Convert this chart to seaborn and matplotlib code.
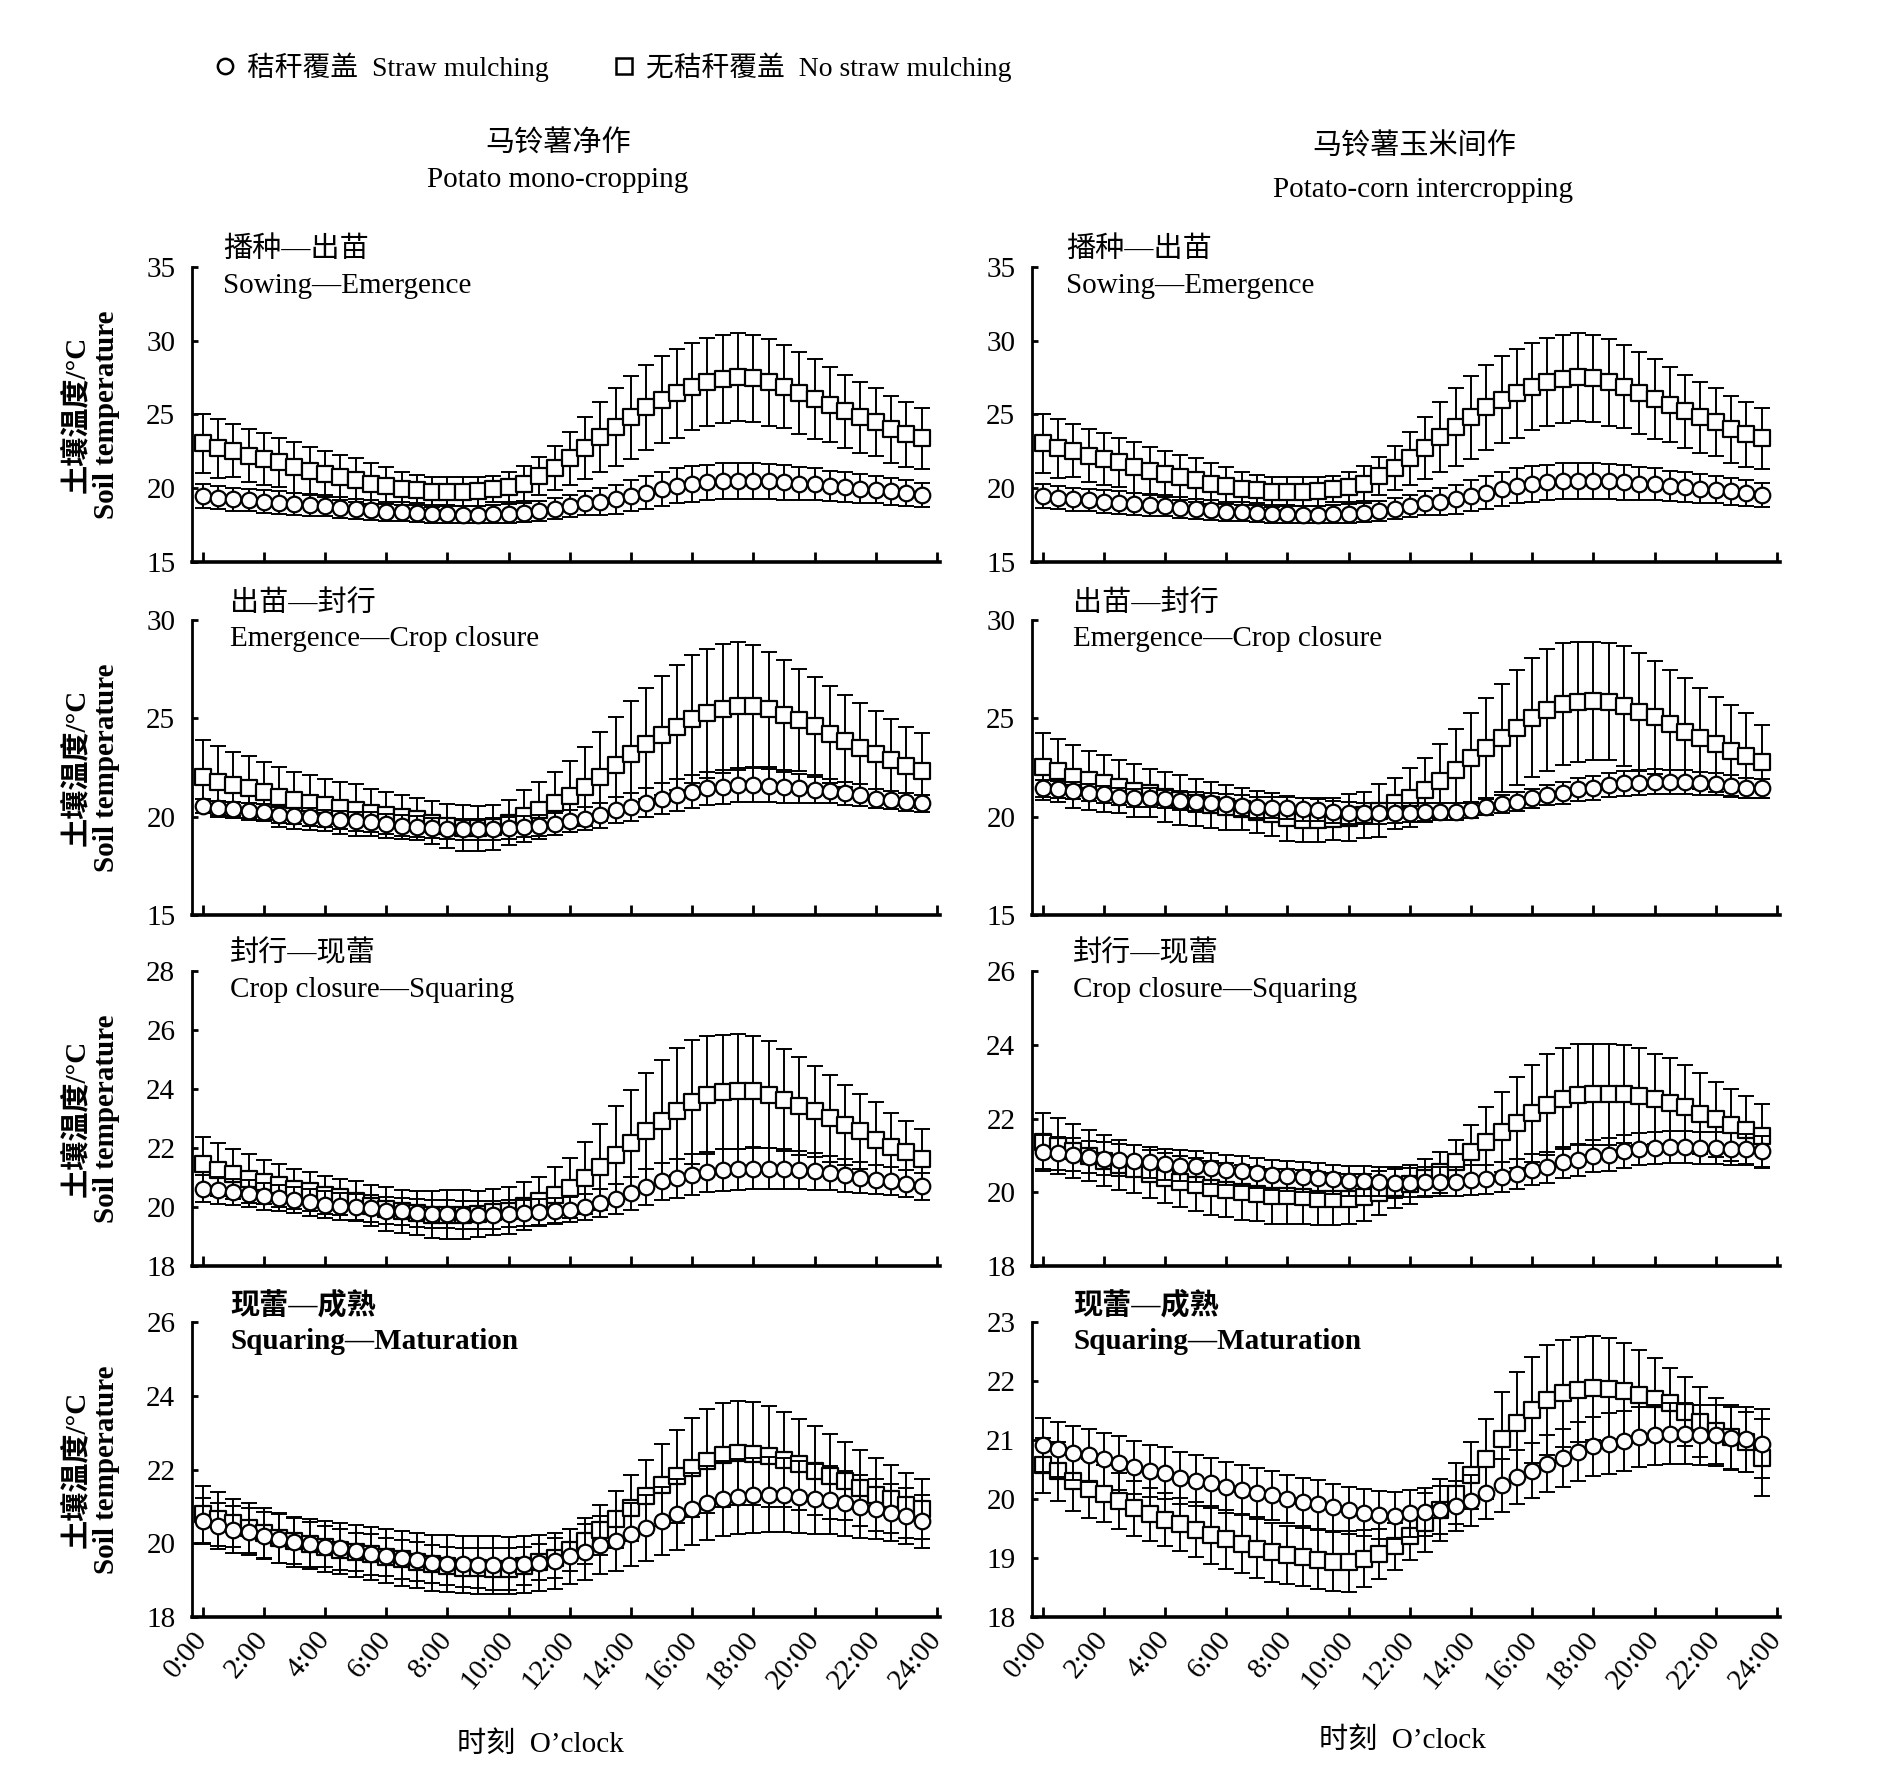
import numpy as np
import pandas as pd
import seaborn as sns
import matplotlib.pyplot as plt
from matplotlib.lines import Line2D

# orari di misura: 0:00 - 23:30 ogni mezz'ora
hours = np.arange(0, 24, 0.5)

# ---------------- 马铃薯净作 Potato mono-cropping ----------------
# 播种—出苗
mono_sow_straw = [19.49, 19.37, 19.26, 19.21, 19.10, 19.03, 18.92, 18.85, 18.81, 18.69,
                  18.58, 18.51, 18.42, 18.40, 18.35, 18.24, 18.24, 18.22, 18.22, 18.24,
                  18.28, 18.35, 18.47, 18.62, 18.81, 18.99, 19.10, 19.26, 19.49, 19.71,
                  19.98, 20.16, 20.28, 20.39, 20.46, 20.50, 20.50, 20.46, 20.39, 20.32,
                  20.28, 20.16, 20.10, 19.98, 19.89, 19.78, 19.67, 19.55]
mono_sow_straw_err = [0.80, 0.79, 0.78, 0.77, 0.76, 0.75, 0.74, 0.72, 0.71, 0.70,
                      0.68, 0.67, 0.66, 0.64, 0.63, 0.62, 0.61, 0.60, 0.60, 0.61,
                      0.62, 0.64, 0.66, 0.70, 0.75, 0.82, 0.90, 0.98, 1.05, 1.11,
                      1.15, 1.18, 1.20, 1.21, 1.22, 1.22, 1.21, 1.19, 1.16, 1.12,
                      1.08, 1.04, 1.00, 0.96, 0.92, 0.89, 0.86, 0.83]
mono_sow_bare = [23.04, 22.72, 22.54, 22.20, 21.98, 21.75, 21.41, 21.18, 20.96, 20.73,
                 20.55, 20.32, 20.16, 19.98, 19.87, 19.76, 19.76, 19.76, 19.80, 19.94,
                 20.10, 20.32, 20.84, 21.36, 22.02, 22.72, 23.45, 24.13, 24.81, 25.49,
                 26.00, 26.44, 26.89, 27.19, 27.41, 27.53, 27.46, 27.19, 26.89, 26.46,
                 26.05, 25.67, 25.21, 24.81, 24.47, 24.01, 23.67, 23.38]
mono_sow_bare_err = [2.00, 2.00, 1.80, 1.79, 1.76, 1.65, 1.70, 1.59, 1.58, 1.52,
                     1.47, 1.36, 1.25, 1.14, 1.02, 1.02, 0.97, 0.97, 0.98, 0.90,
                     1.00, 1.16, 1.30, 1.50, 1.77, 2.10, 2.38, 2.65, 2.83, 2.87,
                     2.95, 3.00, 2.95, 2.99, 2.99, 3.00, 2.94, 2.94, 2.79, 2.76,
                     2.68, 2.53, 2.47, 2.42, 2.31, 2.27, 2.21, 2.06]

# 出苗—封行
mono_emg_straw = [20.53, 20.46, 20.38, 20.29, 20.24, 20.10, 20.03, 19.98, 19.90, 19.81,
                  19.76, 19.73, 19.64, 19.55, 19.50, 19.42, 19.38, 19.35, 19.35, 19.38,
                  19.42, 19.50, 19.55, 19.64, 19.78, 19.90, 20.07, 20.33, 20.50, 20.70,
                  20.92, 21.10, 21.27, 21.44, 21.52, 21.61, 21.61, 21.58, 21.49, 21.44,
                  21.35, 21.30, 21.18, 21.10, 20.92, 20.84, 20.75, 20.67]
mono_emg_straw_err = [0.35, 0.36, 0.37, 0.38, 0.40, 0.41, 0.42, 0.44, 0.45, 0.46,
                      0.48, 0.49, 0.50, 0.51, 0.52, 0.53, 0.54, 0.55, 0.55, 0.55,
                      0.55, 0.55, 0.55, 0.56, 0.58, 0.60, 0.63, 0.66, 0.70, 0.74,
                      0.78, 0.81, 0.83, 0.85, 0.86, 0.86, 0.85, 0.82, 0.78, 0.73,
                      0.68, 0.63, 0.58, 0.54, 0.50, 0.47, 0.45, 0.44]
mono_emg_bare = [22.04, 21.78, 21.61, 21.44, 21.27, 21.01, 20.84, 20.72, 20.58, 20.45,
                 20.33, 20.21, 20.10, 19.98, 19.88, 19.70, 19.52, 19.42, 19.40, 19.46,
                 19.70, 20.02, 20.33, 20.67, 21.04, 21.52, 22.04, 22.64, 23.20, 23.70,
                 24.13, 24.55, 24.95, 25.26, 25.50, 25.63, 25.63, 25.46, 25.17, 24.91,
                 24.61, 24.18, 23.84, 23.49, 23.20, 22.89, 22.60, 22.33]
mono_emg_bare_err = [1.85, 1.80, 1.66, 1.63, 1.50, 1.54, 1.45, 1.40, 1.32, 1.33,
                     1.31, 1.19, 1.17, 1.12, 1.05, 1.10, 1.12, 1.15, 1.15, 1.15,
                     1.15, 1.32, 1.45, 1.62, 1.80, 2.01, 2.26, 2.43, 2.70, 2.82,
                     3.04, 3.17, 3.25, 3.28, 3.30, 3.26, 3.12, 2.91, 2.78, 2.61,
                     2.48, 2.48, 2.34, 2.28, 2.18, 2.06, 1.95, 1.90]

# 封行—现蕾
mono_clo_straw = [20.62, 20.56, 20.51, 20.45, 20.36, 20.31, 20.24, 20.16, 20.08, 20.02,
                  19.99, 19.96, 19.88, 19.85, 19.79, 19.77, 19.77, 19.74, 19.74, 19.74,
                  19.77, 19.80, 19.82, 19.86, 19.91, 19.99, 20.13, 20.28, 20.47, 20.68,
                  20.87, 20.98, 21.10, 21.19, 21.25, 21.28, 21.30, 21.30, 21.28, 21.25,
                  21.21, 21.15, 21.08, 21.00, 20.93, 20.88, 20.79, 20.70]
mono_clo_straw_err = [0.46, 0.46, 0.45, 0.45, 0.45, 0.45, 0.45, 0.45, 0.45, 0.45,
                      0.46, 0.46, 0.47, 0.47, 0.48, 0.48, 0.48, 0.48, 0.48, 0.47,
                      0.46, 0.45, 0.44, 0.43, 0.43, 0.44, 0.47, 0.51, 0.56, 0.60,
                      0.63, 0.66, 0.68, 0.69, 0.70, 0.70, 0.70, 0.69, 0.67, 0.65,
                      0.62, 0.59, 0.56, 0.53, 0.50, 0.48, 0.46, 0.45]
mono_clo_bare = [21.47, 21.27, 21.11, 20.96, 20.85, 20.73, 20.62, 20.53, 20.41, 20.33,
                 20.22, 20.05, 19.94, 19.85, 19.79, 19.74, 19.74, 19.74, 19.77, 19.82,
                 19.88, 20.03, 20.19, 20.41, 20.65, 20.98, 21.36, 21.76, 22.18, 22.58,
                 22.92, 23.24, 23.55, 23.79, 23.90, 23.92, 23.92, 23.81, 23.62, 23.43,
                 23.24, 23.01, 22.78, 22.56, 22.27, 22.04, 21.85, 21.64]
mono_clo_bare_err = [0.91, 0.91, 0.84, 0.82, 0.76, 0.72, 0.68, 0.66, 0.64, 0.61,
                     0.65, 0.70, 0.74, 0.74, 0.74, 0.80, 0.82, 0.83, 0.77, 0.78,
                     0.80, 0.82, 0.83, 0.95, 1.02, 1.23, 1.45, 1.65, 1.80, 1.97,
                     2.08, 2.14, 2.10, 2.01, 1.94, 1.96, 1.88, 1.82, 1.73, 1.66,
                     1.54, 1.48, 1.35, 1.27, 1.29, 1.16, 1.08, 1.01]

# 现蕾—成熟
mono_sq_straw = [20.60, 20.47, 20.37, 20.31, 20.21, 20.12, 20.03, 19.97, 19.91, 19.86,
                 19.79, 19.72, 19.65, 19.59, 19.54, 19.47, 19.45, 19.43, 19.41, 19.41,
                 19.40, 19.43, 19.47, 19.52, 19.65, 19.77, 19.95, 20.06, 20.24, 20.42,
                 20.60, 20.78, 20.92, 21.10, 21.21, 21.26, 21.30, 21.32, 21.30, 21.26,
                 21.21, 21.17, 21.08, 20.99, 20.92, 20.83, 20.74, 20.60]
mono_sq_straw_err = [0.62, 0.62, 0.63, 0.64, 0.65, 0.66, 0.67, 0.68, 0.69, 0.70,
                     0.71, 0.72, 0.73, 0.74, 0.75, 0.76, 0.77, 0.78, 0.78, 0.78,
                     0.78, 0.77, 0.76, 0.75, 0.75, 0.76, 0.78, 0.81, 0.85, 0.89,
                     0.93, 0.96, 0.98, 1.00, 1.01, 1.02, 1.02, 1.01, 1.00, 0.98,
                     0.95, 0.92, 0.88, 0.85, 0.81, 0.78, 0.75, 0.72]
mono_sq_bare = [20.78, 20.66, 20.56, 20.42, 20.28, 20.15, 20.06, 19.97, 19.91, 19.83,
                19.76, 19.70, 19.63, 19.56, 19.50, 19.44, 19.38, 19.34, 19.32, 19.29,
                19.31, 19.38, 19.50, 19.61, 19.83, 20.06, 20.35, 20.65, 20.96, 21.28,
                21.59, 21.82, 22.05, 22.23, 22.38, 22.45, 22.43, 22.36, 22.27, 22.14,
                21.97, 21.82, 21.68, 21.50, 21.32, 21.19, 21.03, 20.92]
mono_sq_bare_err = [0.77, 0.74, 0.65, 0.68, 0.68, 0.68, 0.63, 0.61, 0.56, 0.55,
                    0.51, 0.55, 0.51, 0.54, 0.53, 0.51, 0.52, 0.52, 0.54, 0.57,
                    0.57, 0.52, 0.49, 0.54, 0.57, 0.63, 0.68, 0.78, 0.90, 0.99,
                    1.11, 1.26, 1.35, 1.42, 1.41, 1.40, 1.40, 1.37, 1.29, 1.24,
                    1.20, 1.15, 1.06, 1.04, 0.98, 0.92, 0.88, 0.81]

# ---------------- 马铃薯玉米间作 Potato-corn intercropping ----------------
# 播种—出苗 (nel grafico originale coincide con il pannello della monocoltura)
inter_sow_straw = mono_sow_straw
inter_sow_straw_err = mono_sow_straw_err
inter_sow_bare = mono_sow_bare
inter_sow_bare_err = mono_sow_bare_err

# 出苗—封行
inter_emg_straw = [21.44, 21.39, 21.32, 21.22, 21.14, 21.02, 20.97, 20.97, 20.90, 20.81,
                   20.76, 20.71, 20.63, 20.56, 20.47, 20.46, 20.42, 20.37, 20.34, 20.25,
                   20.17, 20.17, 20.17, 20.20, 20.20, 20.25, 20.25, 20.25, 20.34, 20.51,
                   20.63, 20.76, 20.93, 21.10, 21.22, 21.39, 21.47, 21.61, 21.69, 21.73,
                   21.78, 21.78, 21.75, 21.69, 21.64, 21.56, 21.47, 21.44]
inter_emg_straw_err = [0.42, 0.42, 0.43, 0.43, 0.44, 0.45, 0.46, 0.47, 0.48, 0.49,
                       0.50, 0.51, 0.52, 0.53, 0.54, 0.55, 0.56, 0.57, 0.57, 0.57,
                       0.56, 0.55, 0.53, 0.50, 0.47, 0.45, 0.43, 0.42, 0.42, 0.43,
                       0.45, 0.47, 0.50, 0.53, 0.56, 0.58, 0.60, 0.61, 0.62, 0.62,
                       0.62, 0.61, 0.60, 0.58, 0.56, 0.54, 0.52, 0.50]
inter_emg_bare = [22.54, 22.34, 22.03, 21.86, 21.69, 21.53, 21.32, 21.19, 21.02, 20.85,
                  20.71, 20.59, 20.47, 20.39, 20.25, 20.12, 19.92, 19.83, 19.83, 19.88,
                  19.95, 20.08, 20.31, 20.68, 20.97, 21.36, 21.81, 22.37, 22.97, 23.47,
                  23.98, 24.53, 25.03, 25.42, 25.71, 25.85, 25.88, 25.85, 25.64, 25.34,
                  25.05, 24.69, 24.32, 23.98, 23.68, 23.36, 23.10, 22.80]
inter_emg_bare_err = [1.70, 1.61, 1.61, 1.50, 1.45, 1.35, 1.36, 1.23, 1.27, 1.27,
                      1.19, 1.19, 1.14, 1.05, 1.06, 1.10, 1.15, 1.14, 1.14, 1.09,
                      1.19, 1.19, 1.33, 1.30, 1.49, 1.61, 1.87, 2.07, 2.28, 2.58,
                      2.75, 2.93, 3.02, 3.09, 3.10, 3.05, 3.02, 2.96, 3.04, 3.00,
                      2.88, 2.77, 2.71, 2.58, 2.42, 2.32, 2.15, 1.85]

# 封行—现蕾
inter_clo_straw = [21.09, 21.06, 21.02, 20.95, 20.91, 20.88, 20.84, 20.81, 20.76, 20.72,
                   20.70, 20.65, 20.61, 20.58, 20.52, 20.47, 20.44, 20.42, 20.38, 20.35,
                   20.31, 20.31, 20.29, 20.24, 20.26, 20.29, 20.29, 20.29, 20.33, 20.35,
                   20.42, 20.49, 20.61, 20.68, 20.81, 20.88, 20.99, 21.02, 21.11, 21.17,
                   21.20, 21.22, 21.22, 21.20, 21.20, 21.18, 21.16, 21.11]
inter_clo_straw_err = [0.45, 0.45, 0.44, 0.44, 0.44, 0.43, 0.43, 0.43, 0.42, 0.42,
                       0.42, 0.42, 0.41, 0.41, 0.41, 0.41, 0.40, 0.40, 0.40, 0.40,
                       0.40, 0.40, 0.40, 0.40, 0.40, 0.40, 0.40, 0.40, 0.40, 0.40,
                       0.41, 0.41, 0.42, 0.42, 0.43, 0.43, 0.44, 0.44, 0.44, 0.44,
                       0.44, 0.44, 0.44, 0.44, 0.44, 0.43, 0.43, 0.42]
inter_clo_bare = [21.37, 21.25, 21.11, 20.99, 20.86, 20.74, 20.63, 20.50, 20.38, 20.29,
                  20.20, 20.11, 20.06, 20.00, 19.95, 19.89, 19.89, 19.86, 19.83, 19.81,
                  19.81, 19.86, 19.97, 20.12, 20.22, 20.38, 20.54, 20.81, 21.08, 21.37,
                  21.63, 21.89, 22.14, 22.37, 22.54, 22.64, 22.66, 22.66, 22.66, 22.60,
                  22.53, 22.41, 22.30, 22.13, 21.98, 21.82, 21.68, 21.52]
inter_clo_bare_err = [0.79, 0.76, 0.73, 0.69, 0.68, 0.67, 0.66, 0.65, 0.68, 0.70,
                      0.72, 0.73, 0.74, 0.74, 0.74, 0.74, 0.74, 0.73, 0.72, 0.70,
                      0.68, 0.64, 0.60, 0.56, 0.53, 0.52, 0.55, 0.62, 0.74, 0.95,
                      1.08, 1.23, 1.32, 1.37, 1.38, 1.37, 1.37, 1.37, 1.33, 1.32,
                      1.23, 1.23, 1.14, 1.10, 1.02, 0.98, 0.92, 0.87]

# 现蕾—成熟
inter_sq_straw = [20.91, 20.84, 20.78, 20.74, 20.67, 20.61, 20.54, 20.48, 20.44, 20.36,
                  20.31, 20.27, 20.20, 20.15, 20.11, 20.06, 20.00, 19.95, 19.91, 19.86,
                  19.81, 19.77, 19.73, 19.72, 19.76, 19.78, 19.81, 19.88, 19.97, 20.10,
                  20.23, 20.37, 20.48, 20.60, 20.69, 20.80, 20.89, 20.94, 20.99, 21.05,
                  21.09, 21.11, 21.11, 21.09, 21.08, 21.03, 21.01, 20.94]
inter_sq_straw_err = [0.46, 0.46, 0.46, 0.45, 0.45, 0.45, 0.45, 0.44, 0.44, 0.44,
                      0.43, 0.43, 0.43, 0.42, 0.42, 0.42, 0.41, 0.41, 0.41, 0.40,
                      0.40, 0.40, 0.40, 0.40, 0.40, 0.40, 0.41, 0.42, 0.43, 0.44,
                      0.45, 0.46, 0.47, 0.48, 0.49, 0.50, 0.50, 0.51, 0.51, 0.51,
                      0.51, 0.51, 0.51, 0.51, 0.52, 0.53, 0.55, 0.58]
inter_sq_bare = [20.57, 20.47, 20.30, 20.17, 20.09, 19.97, 19.84, 19.74, 19.65, 19.57,
                 19.48, 19.39, 19.32, 19.24, 19.16, 19.10, 19.05, 19.02, 18.97, 18.94,
                 18.94, 18.99, 19.07, 19.20, 19.38, 19.60, 19.81, 20.09, 20.40, 20.68,
                 21.01, 21.28, 21.51, 21.68, 21.79, 21.85, 21.88, 21.86, 21.83, 21.76,
                 21.70, 21.62, 21.48, 21.31, 21.16, 21.05, 20.97, 20.70]
inter_sq_bare_err = [0.46, 0.50, 0.50, 0.50, 0.48, 0.47, 0.46, 0.45, 0.45, 0.45,
                     0.47, 0.49, 0.50, 0.50, 0.50, 0.50, 0.49, 0.49, 0.50, 0.50,
                     0.51, 0.48, 0.43, 0.40, 0.42, 0.50, 0.53, 0.52, 0.57, 0.68,
                     0.81, 0.88, 0.90, 0.93, 0.91, 0.89, 0.88, 0.87, 0.81, 0.77,
                     0.69, 0.60, 0.59, 0.59, 0.56, 0.54, 0.51, 0.65]

# etichette
stage_cn = ['播种—出苗', '出苗—封行', '封行—现蕾', '现蕾—成熟']
stage_en = ['Sowing—Emergence', 'Emergence—Crop closure',
            'Crop closure—Squaring', 'Squaring—Maturation']
system_cn = ['马铃薯净作', '马铃薯玉米间作']
system_en = ['Potato mono-cropping', 'Potato-corn intercropping']
treat_labels = ['秸秆覆盖  Straw mulching', '无秸秆覆盖  No straw mulching']
hour_ticks = list(range(0, 25, 2))
hour_labels = [f'{h}:00' for h in hour_ticks]
# (min, max, passo) asse y per sistema e fase
ylims_mono = [(15, 35, 5), (15, 30, 5), (18, 28, 2), (18, 26, 2)]
ylims_inter = [(15, 35, 5), (15, 30, 5), (18, 26, 2), (18, 23, 1)]

serie = {
    ('mono', 0): (mono_sow_straw, mono_sow_straw_err, mono_sow_bare, mono_sow_bare_err),
    ('mono', 1): (mono_emg_straw, mono_emg_straw_err, mono_emg_bare, mono_emg_bare_err),
    ('mono', 2): (mono_clo_straw, mono_clo_straw_err, mono_clo_bare, mono_clo_bare_err),
    ('mono', 3): (mono_sq_straw, mono_sq_straw_err, mono_sq_bare, mono_sq_bare_err),
    ('inter', 0): (inter_sow_straw, inter_sow_straw_err, inter_sow_bare, inter_sow_bare_err),
    ('inter', 1): (inter_emg_straw, inter_emg_straw_err, inter_emg_bare, inter_emg_bare_err),
    ('inter', 2): (inter_clo_straw, inter_clo_straw_err, inter_clo_bare, inter_clo_bare_err),
    ('inter', 3): (inter_sq_straw, inter_sq_straw_err, inter_sq_bare, inter_sq_bare_err),
}

righe = []
for (sistema, fase), (s, se, b, be) in serie.items():
    for tratt, vals, errs in (('bare', b, be), ('straw', s, se)):
        for h, v, e in zip(hours, vals, errs):
            righe.append({'system': sistema, 'stage': fase, 'treat': tratt,
                          'hour': h, 'temp': v, 'err': e})
df = pd.DataFrame(righe)

sns.set_style('ticks', rc={'axes.edgecolor': 'black', 'text.color': 'black',
                           'xtick.color': 'black', 'ytick.color': 'black',
                           'axes.labelcolor': 'black'})
plt.rcParams['font.family'] = ['Liberation Serif', 'Noto Sans CJK SC']

W, H = 1890, 1792
fig = plt.figure(figsize=(W / 100, H / 100), dpi=100)

col_left = [192, 1032]
row_top = [267, 620, 971, 1322]
ax_w, ax_h = 748, 295
FS = 21
markers = {'straw': 'o', 'bare': 's'}

for c, sistema in enumerate(['mono', 'inter']):
    ylims = ylims_mono if sistema == 'mono' else ylims_inter
    for r in range(4):
        ax = fig.add_axes([col_left[c] / W, 1 - (row_top[r] + ax_h) / H, ax_w / W, ax_h / H])
        sub = df[(df.system == sistema) & (df.stage == r)]
        z = 2
        for tratt in ['bare', 'straw']:
            d = sub[sub.treat == tratt]
            ax.errorbar(d.hour, d.temp, yerr=d.err, fmt='none', ecolor='black',
                        elinewidth=1.4, capsize=6, capthick=1.4, zorder=z)
            sns.scatterplot(data=d, x='hour', y='temp', marker=markers[tratt], s=125,
                            color='white', edgecolor='black', linewidth=1.6,
                            legend=False, ax=ax, zorder=z + 1)
            z += 2

        lo, hi, step = ylims[r]
        ax.set_ylim(lo, hi)
        ax.set_yticks(np.arange(lo, hi + step / 2, step))
        ax.set_xlim(-0.35, 24.1)
        ax.set_xticks(hour_ticks)
        sns.despine(ax=ax)
        ax.spines['left'].set_linewidth(2)
        ax.spines['bottom'].set_linewidth(2.6)
        ax.tick_params(axis='y', direction='in', length=4, width=2, labelsize=FS, pad=12)
        ax.tick_params(axis='x', direction='in', length=7, width=2, labelsize=FS, pad=13)
        ax.set_xlabel('')
        if r == 3:
            ax.set_xticklabels(hour_labels, rotation=50, ha='right', va='center',
                               rotation_mode='anchor')
        else:
            ax.set_xticklabels([])
        if c == 0:
            ax.set_ylabel('土壤温度/°C\nSoil temperature', fontsize=FS,
                          fontweight='bold', linespacing=1.15)
            ax.yaxis.set_label_coords(-0.096, 0.5)
        else:
            ax.set_ylabel('')

        peso = 'bold' if r == 3 else 'normal'
        xoff = (0.042 if r == 0 else 0.051) + (0.004 if c == 1 else 0)
        ax.text(xoff, 1 + 17 / ax_h, stage_cn[r], transform=ax.transAxes,
                ha='left', va='center', fontsize=FS, fontweight=peso)
        ax.text(xoff, 1 - 19 / ax_h, stage_en[r], transform=ax.transAxes,
                ha='left', va='center', fontsize=FS, fontweight=peso)

# titoli di colonna
fig.text(558 / W, 1 - 144 / H, system_cn[0], ha='center', va='center', fontsize=FS)
fig.text(558 / W, 1 - 180 / H, system_en[0], ha='center', va='center', fontsize=FS)
fig.text(1414 / W, 1 - 147 / H, system_cn[1], ha='center', va='center', fontsize=FS)
fig.text(1423 / W, 1 - 190 / H, system_en[1], ha='center', va='center', fontsize=FS)

# etichette asse x
fig.text(540 / W, 1 - 1745 / H, '时刻  O’clock', ha='center', va='center', fontsize=FS)
fig.text(1402 / W, 1 - 1741 / H, '时刻  O’clock', ha='center', va='center', fontsize=FS)

# legenda
handles = [Line2D([], [], ls='none', marker='o', ms=11, mfc='white', mec='black',
                  mew=1.8, label=treat_labels[0]),
           Line2D([], [], ls='none', marker='s', ms=11, mfc='white', mec='black',
                  mew=1.8, label=treat_labels[1])]
fig.legend(handles=handles, loc='center left', bbox_to_anchor=(214 / W, 1 - 67 / H),
           ncol=2, frameon=False, fontsize=20, handlelength=0.8, handletextpad=0.4,
           columnspacing=2.3, borderpad=0, borderaxespad=0)

fig.savefig('out.png', dpi=100)
